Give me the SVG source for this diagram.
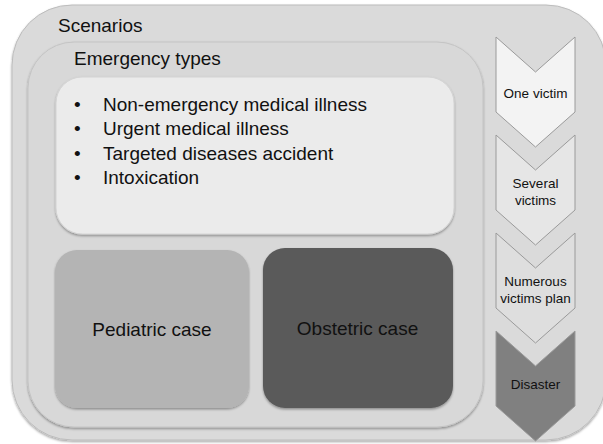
<svg xmlns="http://www.w3.org/2000/svg" width="603" height="444" viewBox="0 0 603 444">
<style>
text{font-family:"Liberation Sans",Arial,sans-serif;fill:#111}
.t19{font-size:19px}
.t14{font-size:13.5px;text-anchor:middle}
.chev{stroke:#9a9a9a;stroke-width:1}
</style>
<defs>
<filter id="sh" x="-5%" y="-5%" width="110%" height="112%">
<feDropShadow dx="0" dy="1.5" stdDeviation="1" flood-color="#000" flood-opacity="0.35"/>
</filter>
</defs>
<rect width="603" height="444" fill="#ffffff"/>
<g id="scenarios">
<rect x="12" y="5" width="594" height="435" rx="60" ry="60" fill="#dadada" stroke="#bcbcbc" stroke-width="1" filter="url(#sh)"/>
<text class="t19" x="58" y="32">Scenarios</text>
</g>
<g id="emergency-types">
<rect x="28" y="42" width="455" height="385" rx="46" ry="46" fill="#d8d8d8" stroke="#c4c4c4" stroke-width="1" filter="url(#sh)"/>
<text class="t19" x="74" y="65">Emergency types</text>
</g>
<g id="list">
<rect x="56" y="77" width="398" height="157" rx="26" ry="26" fill="#ebebeb" stroke="#d4d4d4" stroke-width="1" filter="url(#sh)"/>
<g class="t19" font-size="19.5">
<text x="74" y="111">•</text><text x="103" y="111">Non-emergency medical illness</text>
<text x="74" y="135">•</text><text x="103" y="135">Urgent medical illness</text>
<text x="74" y="160">•</text><text x="103" y="160">Targeted diseases accident</text>
<text x="74" y="184">•</text><text x="103" y="184">Intoxication</text>
</g>
</g>
<g id="pediatric">
<rect x="55" y="250" width="194" height="158" rx="22" ry="22" fill="#b4b4b4" filter="url(#sh)"/>
<text class="t19" x="152" y="336" text-anchor="middle">Pediatric case</text>
</g>
<g id="obstetric">
<rect x="263" y="248" width="190" height="160" rx="22" ry="22" fill="#5a5a5a" filter="url(#sh)"/>
<text class="t19" x="357.5" y="335" text-anchor="middle">Obstetric case</text>
</g>
<g id="connectors"></g>
<g id="disaster">
<path class="chev" d="M496,331 L535.5,366 L575,331 L575,406 L535.5,441 L496,406 Z" fill="#808080"/>
<text class="t14" x="535.5" y="389">Disaster</text>
</g>
<g id="numerous">
<path class="chev" d="M496,233 L535.5,268 L575,233 L575,308 L535.5,343 L496,308 Z" fill="#dedede"/>
<text class="t14" x="535.5" y="286">Numerous</text>
<text class="t14" x="535.5" y="303">victims plan</text>
</g>
<g id="several">
<path class="chev" d="M496,135 L535.5,170 L575,135 L575,210 L535.5,245 L496,210 Z" fill="#e6e6e6"/>
<text class="t14" x="535.5" y="188">Several</text>
<text class="t14" x="535.5" y="205">victims</text>
</g>
<g id="one">
<path class="chev" d="M496,37 L535.5,72 L575,37 L575,112 L535.5,147 L496,112 Z" fill="#f3f3f3"/>
<text class="t14" x="535.5" y="98">One victim</text>
</g>
</svg>
